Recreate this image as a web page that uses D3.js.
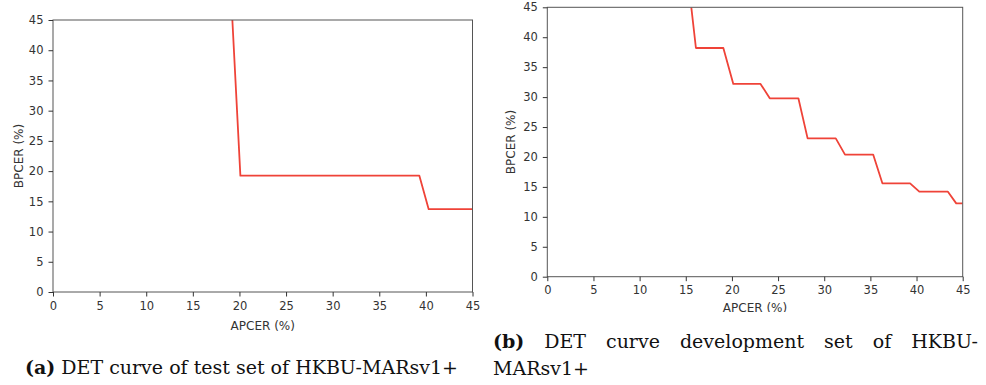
<!DOCTYPE html>
<html>
<head>
<meta charset="utf-8">
<script src="https://cdn.jsdelivr.net/npm/d3@7"></script>
<style>
  body { margin: 0; background: #fff; }
  svg { display: block; }
  .tick text { font-family: "DejaVu Sans", sans-serif; font-size: 11.5px; fill: #333; }
  .tick line { stroke: #333; }
  .domain { stroke: none; }
  .axlabel { font-family: "DejaVu Sans", sans-serif; font-size: 12px; fill: #333; }
  .caption { font-family: "DejaVu Serif", serif; font-size: 19px; fill: #111; }
</style>
</head>
<body>
<div id="chart"></div>
<script>
// ---- data ----
var ticks = [0, 5, 10, 15, 20, 25, 30, 35, 40, 45];

var testApcer = [19.24, 20.1, 39.3, 40.3, 45];
var testBpcer = [45, 19.25, 19.25, 13.7, 13.7];

var devApcer = [15.6, 16.1, 19.07, 20.15, 23.1, 24.1, 27.2, 28.2, 31.25, 32.25, 35.3, 36.3, 39.3, 40.3, 43.4, 44.3, 45];
var devBpcer = [45, 38.2, 38.2, 32.2, 32.2, 29.8, 29.8, 23.1, 23.1, 20.4, 20.4, 15.6, 15.6, 14.2, 14.2, 12.25, 12.25];

var captionA = ["(a)", "DET curve of test set of HKBU-MARsv1+"];
var captionB1 = ["(b)", "DET", "curve", "development", "set", "of", "HKBU-"];
var captionB2 = "MARsv1+";

var width = 986, height = 385;

var svg = d3.select("#chart").append("svg")
    .attr("width", width)
    .attr("height", height);

// the right figure is cropped just under its x label
svg.append("defs").append("clipPath")
    .attr("id", "cropB")
  .append("rect")
    .attr("x", 490).attr("y", 0)
    .attr("width", 496).attr("height", 312);

var drawPanel = function(g, box, xs, ys, xLabelY, yLabelX) {
    var x = d3.scaleLinear().domain([0, 45]).range([box.left, box.right]);
    var y = d3.scaleLinear().domain([0, 45]).range([box.bottom, box.top]);

    g.append("clipPath").attr("id", box.id)
      .append("rect")
        .attr("x", box.left).attr("y", box.top)
        .attr("width", box.right - box.left)
        .attr("height", box.bottom - box.top);

    var pts = xs.map(function(v, i) { return [v, ys[i]]; });
    var line = d3.line()
        .x(function(d) { return x(d[0]); })
        .y(function(d) { return y(d[1]); });

    g.append("path")
        .datum(pts)
        .attr("clip-path", "url(#" + box.id + ")")
        .attr("d", line)
        .attr("fill", "none")
        .attr("stroke", "#ef4338")
        .attr("stroke-width", 1.8)
        .attr("stroke-linejoin", "round");

    // spines
    g.append("rect")
        .attr("x", box.left).attr("y", box.top)
        .attr("width", box.right - box.left)
        .attr("height", box.bottom - box.top)
        .attr("fill", "none")
        .attr("stroke", "#555")
        .attr("stroke-width", 1);

    g.append("g")
        .attr("transform", "translate(0," + box.bottom + ")")
        .call(d3.axisBottom(x).tickValues(ticks).tickSize(4.5).tickPadding(5));

    g.append("g")
        .attr("transform", "translate(" + box.left + ",0)")
        .call(d3.axisLeft(y).tickValues(ticks).tickSize(4.5).tickPadding(5));

    g.append("text")
        .attr("class", "axlabel")
        .attr("x", (box.left + box.right) / 2)
        .attr("y", xLabelY)
        .attr("text-anchor", "middle")
        .text("APCER (%)");

    g.append("text")
        .attr("class", "axlabel")
        .attr("transform", "translate(" + yLabelX + "," + (box.top + box.bottom) / 2 + ") rotate(-90)")
        .attr("text-anchor", "middle")
        .text("BPCER (%)");
};

var gA = svg.append("g");
drawPanel(gA, {id: "clipA", left: 53, right: 472.5, top: 20, bottom: 292}, testApcer, testBpcer, 329.5, 22.5);

var gB = svg.append("g").attr("clip-path", "url(#cropB)");
drawPanel(gB, {id: "clipB", left: 547.3, right: 962.7, top: 7.3, bottom: 276.7}, devApcer, devBpcer, 312, 515);

// ---- captions ----
var capA = svg.append("text").attr("class", "caption").attr("x", 25).attr("y", 374);
capA.append("tspan").attr("font-weight", "bold").text(captionA[0]);
capA.append("tspan").text(" " + captionA[1]);

// justified first line of caption (b)
var lineB = svg.append("g");
var words = lineB.selectAll("text")
    .data(captionB1)
    .enter()
    .append("text")
    .attr("class", "caption")
    .attr("y", 348)
    .attr("font-weight", function(d, i) { return i === 0 ? "bold" : null; })
    .text(function(d) { return d; });

var bLeft = 493, bRight = 978;
var widths = [];
words.each(function() { widths.push(this.getComputedTextLength()); });
var gap = (bRight - bLeft - d3.sum(widths)) / (captionB1.length - 1);
var cursor = bLeft;
words.attr("x", function(d, i) {
    var px = cursor;
    cursor += widths[i] + gap;
    return px;
});

svg.append("text")
    .attr("class", "caption")
    .attr("x", 493)
    .attr("y", 375)
    .text(captionB2);
</script>
</body>
</html>
